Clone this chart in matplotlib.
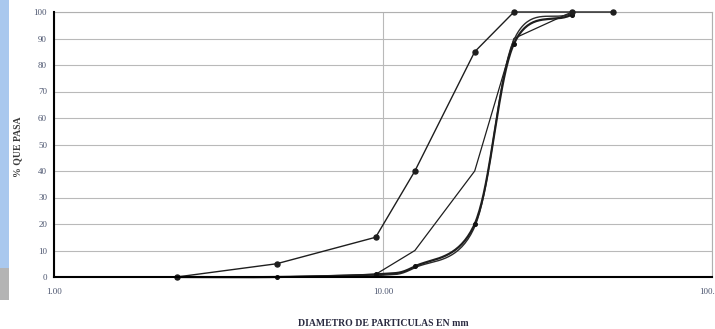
import numpy as np
import matplotlib
matplotlib.use("Agg")
import matplotlib.pyplot as plt
from matplotlib.patches import Rectangle

# sieve openings (mm) and % passing
sieves = [2.36, 4.75, 9.5, 12.5, 19, 25, 37.5, 50]
upper_limit = [0, 5, 15, 40, 85, 100, 100, 100]
lower_sieves = [2.36, 4.75, 9.5, 12.5, 19, 25, 37.5]
lower_limit = [0, 0, 1, 10, 40, 90, 100]
sample_sieves = [2.36, 4.75, 9.5, 12.5, 19, 25, 37.5]
sample_1 = [0, 0, 1, 4, 20, 88, 99]
sample_2 = [0, 0, 0.5, 3.5, 19, 89.5, 99.5]

y_ticks = list(range(0, 101, 10))
x_ticks = [1, 10, 100]
x_tick_labels = ["1.00", "10.00", "100.00"]

label_col = "#4d5670"


def smooth(xs, ys, n=40):
    # catmull-rom through the points, done in log10(x) so it looks like excel's smoothed line
    lx = np.log10(xs)
    ys = np.asarray(ys, float)
    px = np.concatenate([[2 * lx[0] - lx[1]], lx, [2 * lx[-1] - lx[-2]]])
    py = np.concatenate([[2 * ys[0] - ys[1]], ys, [2 * ys[-1] - ys[-2]]])
    outx, outy = [], []
    t = np.linspace(0, 1, n)
    for i in range(1, len(px) - 2):
        for P, out in ((px, outx), (py, outy)):
            p0, p1, p2, p3 = P[i - 1], P[i], P[i + 1], P[i + 2]
            seg = 0.5 * ((2 * p1) + (-p0 + p2) * t + (2 * p0 - 5 * p1 + 4 * p2 - p3) * t ** 2
                         + (-p0 + 3 * p1 - 3 * p2 + p3) * t ** 3)
            out.extend(seg)
    return 10 ** np.array(outx), np.array(outy)


plt.rcParams["font.family"] = ["Liberation Serif", "DejaVu Serif"]
fig = plt.figure(figsize=(7.15, 3.29), dpi=100)
ax = fig.add_axes([54 / 715, 1 - 277 / 329, (712 - 54) / 715, (277 - 12) / 329])

# page strip on the far left
fig.patches.append(Rectangle((0, 1 - 268 / 329), 9 / 715, 268 / 329, transform=fig.transFigure,
                             facecolor="#a9c8ee", edgecolor="none"))
fig.patches.append(Rectangle((0, 1 - 300 / 329), 9 / 715, 32 / 329, transform=fig.transFigure,
                             facecolor="#b4b4b4", edgecolor="none"))

ax.set_xscale("log")
ax.set_xlim(1, 100)
ax.set_ylim(0, 100)

ax.grid(True, which="both", axis="x", color="#b9b9b9", lw=0.8)
ax.grid(True, which="major", axis="y", color="#b9b9b9", lw=0.8)
ax.set_axisbelow(True)

ax.plot(sieves, upper_limit, color="#1e1e1e", lw=1.0, marker="o", ms=3.6, clip_on=False, zorder=4)
ax.plot(lower_sieves, lower_limit, color="#1e1e1e", lw=0.9, clip_on=False)
sx, sy = smooth(sample_sieves, sample_2)
ax.plot(sx, sy, color="#2a2a2a", lw=1.0, clip_on=False)
sx, sy = smooth(sample_sieves, sample_1)
ax.plot(sx, sy, color="#1e1e1e", lw=1.6, clip_on=False)
ax.plot(sample_sieves, sample_1, ls="none", marker="o", ms=2.6, color="#111111", clip_on=False)

ax.set_yticks(y_ticks)
ax.set_xticks(x_ticks)
ax.set_xticklabels(x_tick_labels)
ax.minorticks_off()
ax.xaxis.set_minor_formatter(matplotlib.ticker.NullFormatter())
ax.tick_params(axis="both", length=0, labelsize=6.5, labelcolor=label_col, pad=5)
ax.tick_params(axis="x", pad=8)

for s in ("top", "right"):
    ax.spines[s].set_color("#b0b0b0")
    ax.spines[s].set_linewidth(0.8)
for s in ("left", "bottom"):
    ax.spines[s].set_color("black")
    ax.spines[s].set_linewidth(1.5)
    ax.spines[s].set_zorder(5)

fig.text(18 / 715, 1 - 147 / 329, "% QUE PASA", rotation=90, ha="center", va="center",
         fontsize=7, fontweight="bold", color="#3a3a3a")
fig.text(383 / 715, 1 - 323 / 329, "DIAMETRO DE PARTICULAS EN mm", ha="center", va="center",
         fontsize=7, fontweight="bold", color="#2a2a40")

fig.savefig("out.png", dpi=100)
